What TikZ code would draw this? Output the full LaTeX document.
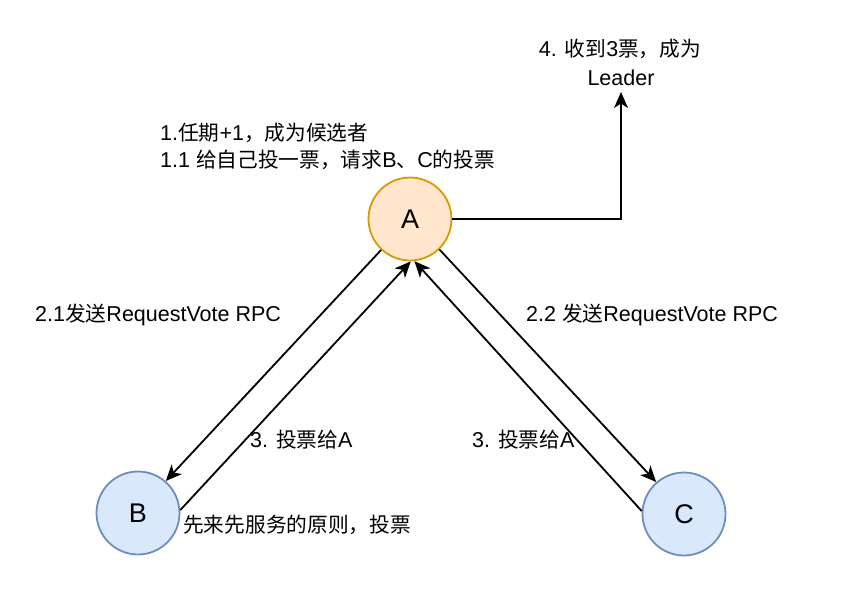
\documentclass[tikz,border=0pt]{standalone}
\usepackage{fontspec}
\setmainfont{Liberation Sans}
\newfontfamily\cjkfont{Noto Sans CJK SC}
\newcommand\zhtxt[1]{{\cjkfont\fontsize{20.7}{24}\selectfont #1}}
\usetikzlibrary{arrows.meta}
\definecolor{afill}{HTML}{FFE6CC}
\definecolor{adraw}{HTML}{D79B00}
\definecolor{bfill}{HTML}{DAE8FC}
\definecolor{bdraw}{HTML}{6C8EBF}
\tikzset{
  nodecirc/.style={circle, minimum size=83pt, inner sep=0pt, line width=1.8pt, font=\fontsize{27}{30}\selectfont},
  anode/.style={nodecirc, draw=adraw, fill=afill},
  bnode/.style={nodecirc, draw=bdraw, fill=bfill},
  lbl/.style={inner sep=0pt, font=\fontsize{21.5}{25}\selectfont},
  conn/.style={line width=1.8pt, -{Stealth[length=16pt, width=14pt, inset=4.5pt]}},
}
\begin{document}
\begin{tikzpicture}[x=1pt,y=1pt]
\useasboundingbox (0,0) rectangle (843,-594);
\node[anode] (A) at (410,-219) {A};
\node[bnode] (B) at (138,-513) {B};
\node[bnode] (C) at (684,-514) {C};

\node[lbl,anchor=west] (t1) at (160,-133) {1.\zhtxt{任期}+1\zhtxt{，成为候选者}};
\node[lbl,anchor=west] (t2) at (160,-160) {1.1 \zhtxt{给自己投一票，请求}B\zhtxt{、}C\zhtxt{的投票}};
\node[lbl] (t4a) at (620,-49) {4. \zhtxt{收到}3\zhtxt{票，成为}};
\node[lbl] (t4b) at (621,-78) {Leader};
\node[lbl,anchor=west] (t21) at (35,-315) {2.1\zhtxt{发送}RequestVote RPC};
\node[lbl,anchor=west] (t22) at (526,-315) {2.2 \zhtxt{发送}RequestVote RPC};
\node[lbl,anchor=west] (t3l) at (250,-440) {3. \zhtxt{投票给}A};
\node[lbl,anchor=west] (t3r) at (472,-440) {3. \zhtxt{投票给}A};
\node[lbl,anchor=west] (tb) at (183,-525) {\zhtxt{先来先服务的原则，投票}};

\coordinate (L) at (621,-92);
\draw[conn] (A.227) -- (B.49);
\draw[conn] (B.4) -- (A.271);
\draw[conn] (A.314) -- (C.131);
\draw[conn] (C.176) -- (A.276);
\draw[conn] (A.east) -- (L |- A.east) -- (L);
\end{tikzpicture}
\end{document}
